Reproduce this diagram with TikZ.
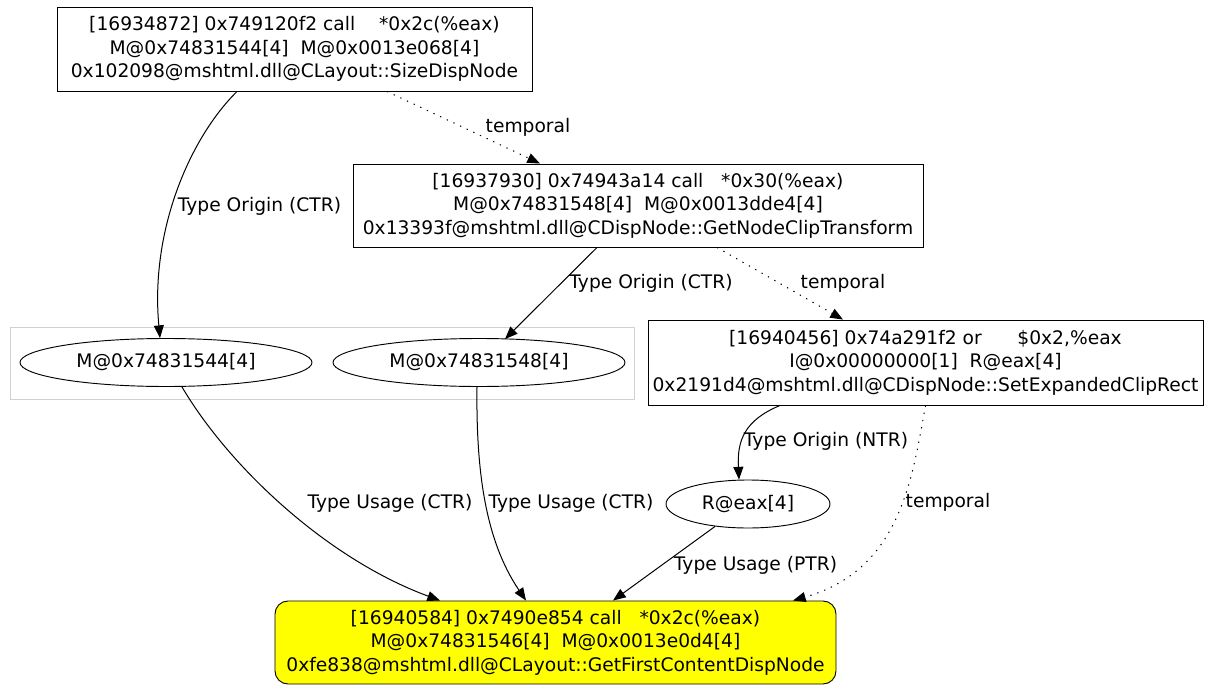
\documentclass[tikz,border=0pt]{standalone}
\usepackage{fontspec}
\setmainfont{DejaVu Sans}
\usetikzlibrary{shapes.geometric,arrows.meta,calc}
\newcommand\pxu{0.75pt}
\definecolor{gvyellow}{RGB}{255,255,0}
\begin{document}
\begin{tikzpicture}[x=0.75pt,y=-0.75pt,
  every node/.style={font=\fontsize{14}{17.6}\selectfont},
  box/.style={draw, line width=0.7pt, inner sep=0pt, align=center},
  ell/.style={draw, ellipse, line width=0.7pt, inner sep=0pt, minimum height=48*\pxu},
  conn/.style={line width=0.75pt, -{Triangle[length=9.5pt,width=7.5pt]}},
  temp/.style={conn, dash pattern=on 1pt off 4.5pt},
  lab/.style={inner sep=0pt},
  clus/.style={draw=black!18, line width=0.7pt}]
\useasboundingbox (0,0) rectangle (1206,685);

\draw[clus] (10,327) rectangle (634,399);

\node[box, minimum width=475*\pxu, minimum height=84*\pxu] (A) at (294.5,49)
  {[16934872] 0x749120f2 call~~~~*0x2c(\%eax)\\M@0x74831544[4]~~M@0x0013e068[4]\\0x102098@mshtml.dll@CLayout::SizeDispNode};
\node[box, minimum width=570*\pxu, minimum height=83*\pxu] (B) at (638,205.5)
  {[16937930] 0x74943a14 call~~~*0x30(\%eax)\\M@0x74831548[4]~~M@0x0013dde4[4]\\0x13393f@mshtml.dll@CDispNode::GetNodeClipTransform};
\node[box, minimum width=555*\pxu, minimum height=85*\pxu] (C) at (925.5,362.5)
  {[16940456] 0x74a291f2 or~~~~~~\$0x2,\%eax\\I@0x00000000[1]~~R@eax[4]\\0x2191d4@mshtml.dll@CDispNode::SetExpandedClipRect};
\node[box, fill=gvyellow, rounded corners=13*\pxu, minimum width=561*\pxu, minimum height=83*\pxu] (D) at (555.5,642.5)
  {[16940584] 0x7490e854 call~~~*0x2c(\%eax)\\M@0x74831546[4]~~M@0x0013e0d4[4]\\0xfe838@mshtml.dll@CLayout::GetFirstContentDispNode};

\node[ell, minimum width=292*\pxu] (E1) at (166,362.5) {M@0x74831544[4]};
\node[ell, minimum width=292*\pxu] (E2) at (479,362.5) {M@0x74831548[4]};
\node[ell, minimum width=164*\pxu] (R) at (748,504) {R@eax[4]};

% edges
\draw[conn] ($(A.south)+(-57.5,0)$) .. controls (190,138) and (150,230) .. ($(E1.north)+(-6,0)$);
\node[lab] (l1) at (259.5,206) {Type Origin (CTR)};

\draw[temp] ($(A.south)+(92.5,0)$) -- ($(B.north)+(-98,0)$);
\node[lab] (l2) at (528,127) {temporal};

\draw[conn] ($(B.south)+(-41,0)$) -- ($(E2.north)+(26,1)$);
\node[lab] (l3) at (651,283) {Type Origin (CTR)};

\draw[temp] ($(B.south)+(79,0)$) -- ($(C.north)+(-82.5,0)$);
\node[lab] (l4) at (843,283) {temporal};

\draw[conn] ($(C.south)+(-145.5,0)$) .. controls (745,420) and (737,440) .. ($(R.north)+(-9,0)$);
\node[lab] (l5) at (826,441) {Type Origin (NTR)};

\draw[temp] (C.south) .. controls (912,480) and (900,570) .. ($(D.north)+(237.5,0)$);
\node[lab] (l6) at (948,502) {temporal};

\draw[conn] ($(E1.south)+(16,0)$) .. controls (228,465) and (325,558) .. ($(D.north)+(-115.5,0)$);
\node[lab] (l7) at (390,503) {Type Usage (CTR)};

\draw[conn] ($(E2.south)+(-2,0)$) .. controls (476,470) and (485,540) .. ($(D.north)+(-29.5,0)$);
\node[lab] (l8) at (571,503) {Type Usage (CTR)};

\draw[conn] ($(R.south)+(-33,-2)$) -- ($(D.north)+(57.5,0)$);
\node[lab] (l9) at (755.5,565) {Type Usage (PTR)};
\end{tikzpicture}
\end{document}
